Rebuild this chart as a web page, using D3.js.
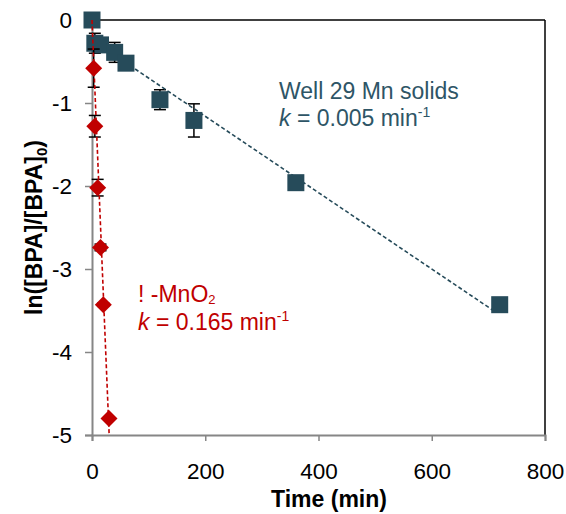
<!DOCTYPE html>
<html><head><meta charset="utf-8">
<script src="https://cdn.jsdelivr.net/npm/d3@7"></script>
<style>body{margin:0;background:#fff}svg{display:block}text{font-family:Arial,"Liberation Sans",sans-serif}</style>
</head><body><svg id="c" width="566" height="514"></svg>
<script>
// Data
const wellTime = [0, 5, 15, 40, 60, 120, 180, 360, 720];
const wellValue = [0, -0.28, -0.30, -0.39, -0.52, -0.96, -1.21, -1.96, -3.43];
const wellErr = [0, 0.12, 0.05, 0.12, 0.05, 0.12, 0.2, 0.03, 0.02];
const mnoTime = [3, 5, 10, 15, 20, 30];
const mnoValue = [-0.58, -1.28, -2.02, -2.74, -3.43, -4.8];
const mnoErr = [0.23, 0.13, 0.1, 0.04, 0.02, 0.02];
const wellFit = {intercept: -0.24, slope: -0.0046, t0: 0, t1: 710};
const mnoFit = {intercept: 0, slope: -0.165, t0: 0, t1: 30.3};
const xTicks = [0, 200, 400, 600, 800];
const yTicks = [0, -1, -2, -3, -4, -5];

const svg = d3.select("#c");
const L = 92, R = 545, T = 20, B = 435;
const x = d3.scaleLinear().domain([0, 800]).range([L, R]);
const y = d3.scaleLinear().domain([-5, 0]).range([B, T]);
const blue = "#264B5A", red = "#C00000", gray = "#868686";

// frame top/right
svg.append("line").attr("x1", L).attr("x2", R).attr("y1", T).attr("y2", T).attr("stroke", "#000").attr("stroke-width", 1.5);
svg.append("line").attr("x1", R).attr("x2", R).attr("y1", T).attr("y2", B).attr("stroke", "#000").attr("stroke-width", 1.5);

// axes
const xa = svg.append("g").attr("transform", `translate(0,${B})`)
  .call(d3.axisBottom(x).tickValues(xTicks).tickSize(6).tickPadding(22).tickFormat(d3.format("d")));
const ya = svg.append("g").attr("transform", `translate(${L},0)`)
  .call(d3.axisLeft(y).tickValues(yTicks).tickSize(7).tickPadding(13).tickFormat(d => d === 0 ? "0" : "-" + Math.abs(d)));
[xa, ya].forEach(g => {
  g.select(".domain").attr("stroke", gray).attr("stroke-width", 2);
  g.selectAll(".tick line").attr("stroke", gray).attr("stroke-width", 1.5);
  g.selectAll(".tick text").attr("fill", "#000").attr("font-size", 22.5).attr("font-family", "Arial, Liberation Sans, sans-serif");
});
ya.selectAll(".tick text").attr("dy", "0.35em");

// labels
svg.append("text").attr("x", 329).attr("y", 507).attr("text-anchor", "middle")
  .attr("font-size", 23).attr("font-weight", "bold").text("Time (min)");
const yl = svg.append("text").attr("transform", `translate(42,${(T + B) / 2}) rotate(-90)`)
  .attr("text-anchor", "middle").attr("font-size", 23).attr("font-weight", "bold");
yl.append("tspan").text("ln([BPA]/[BPA]");
yl.append("tspan").attr("font-size", 15).attr("dy", 5).text("0");
yl.append("tspan").attr("dy", -5).text(")");

function errBars(ts, vs, es) {
  const g = svg.append("g").attr("stroke", "#000").attr("stroke-width", 1.5);
  ts.forEach((t, i) => {
    if (!es[i]) return;
    const cx = x(t), y1 = y(vs[i] + es[i]), y2 = y(vs[i] - es[i]);
    g.append("line").attr("x1", cx).attr("x2", cx).attr("y1", y1).attr("y2", y2);
    g.append("line").attr("x1", cx - 6).attr("x2", cx + 6).attr("y1", y1).attr("y2", y1);
    g.append("line").attr("x1", cx - 6).attr("x2", cx + 6).attr("y1", y2).attr("y2", y2);
  });
}
function fitLine(f, col) {
  svg.append("line").attr("x1", x(f.t0)).attr("y1", y(f.intercept + f.slope * f.t0))
    .attr("x2", x(f.t1)).attr("y2", y(f.intercept + f.slope * f.t1))
    .attr("stroke", col).attr("stroke-width", 1.6).attr("stroke-dasharray", "4,2.5");
}

// Well 29 series
errBars(wellTime, wellValue, wellErr);
fitLine(wellFit, blue);
svg.append("g").selectAll("rect").data(wellTime).join("rect")
  .attr("x", (d) => x(d) - 8.5).attr("y", (d, i) => y(wellValue[i]) - 8.5)
  .attr("width", 17).attr("height", 17).attr("fill", blue);

// MnO2 series
errBars(mnoTime, mnoValue, mnoErr);
fitLine(mnoFit, red);
svg.append("g").selectAll("path").data(mnoTime).join("path")
  .attr("d", (d, i) => { const cx = x(d), cy = y(mnoValue[i]), r = 8.5; return `M${cx},${cy - r}L${cx + r},${cy}L${cx},${cy + r}L${cx - r},${cy}Z`; })
  .attr("fill", red);

// annotations
const t1 = svg.append("text").attr("x", 279).attr("y", 99).attr("font-size", 23).attr("fill", "#2E5566");
t1.text("Well 29 Mn solids");
const t2 = svg.append("text").attr("x", 279).attr("y", 126).attr("font-size", 23).attr("fill", "#2E5566");
t2.append("tspan").attr("font-style", "italic").text("k");
t2.append("tspan").text(" = 0.005 min");
t2.append("tspan").attr("font-size", 14).attr("dy", -9).text("-1");

const r1 = svg.append("text").attr("x", 138).attr("y", 302).attr("font-size", 23).attr("fill", red);
r1.append("tspan").text("! -MnO");
r1.append("tspan").attr("font-size", 13).attr("dy", 2).text("2");
const r2 = svg.append("text").attr("x", 138).attr("y", 330).attr("font-size", 23).attr("fill", red);
r2.append("tspan").attr("font-style", "italic").text("k");
r2.append("tspan").text(" = 0.165 min");
r2.append("tspan").attr("font-size", 14).attr("dy", -9).text("-1");
</script></body></html>
